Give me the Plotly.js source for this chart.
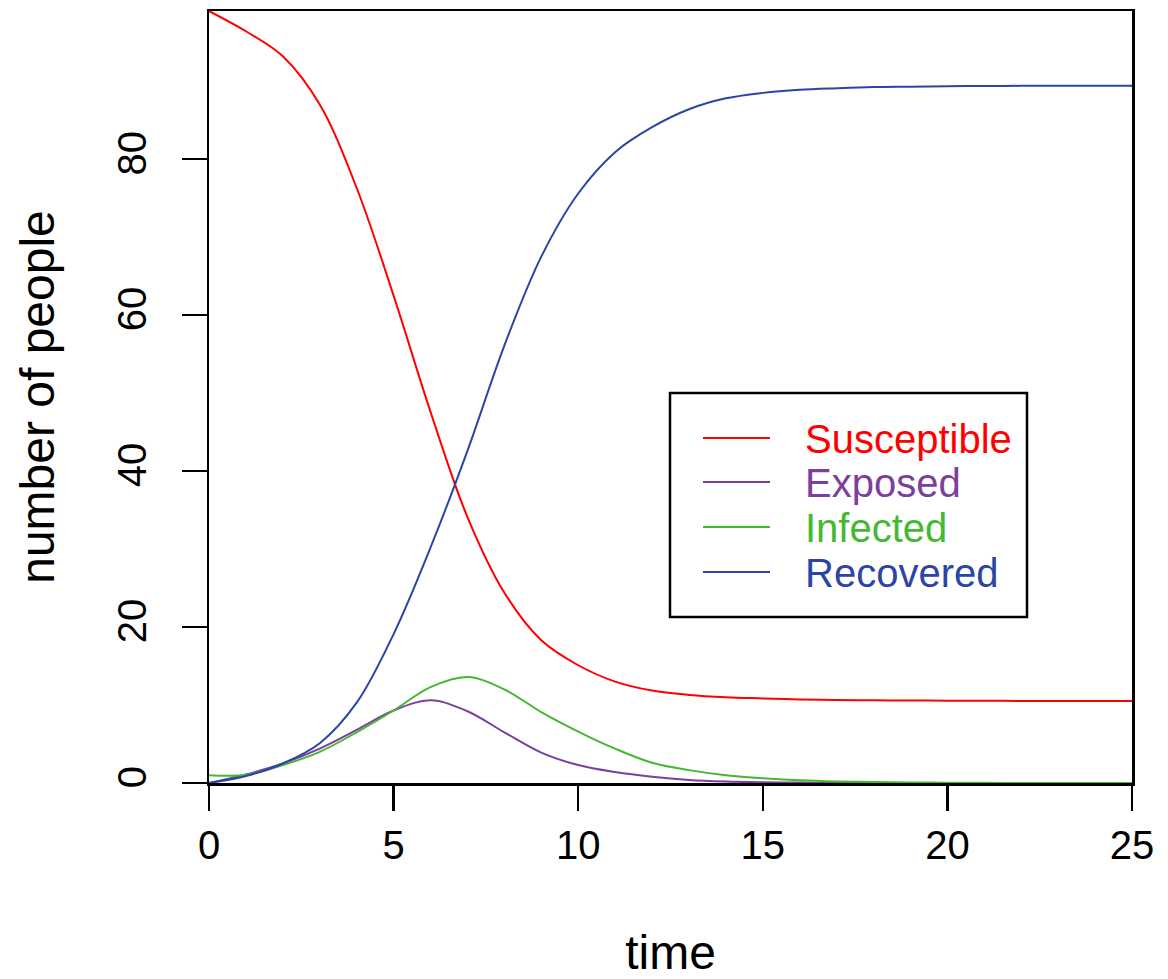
<!DOCTYPE html>
<html>
<head>
<meta charset="utf-8">
<script src="https://cdn.plot.ly/plotly-3.0.1.min.js"></script>
<style>
html, body { margin: 0; padding: 0; background: #ffffff; }
#chart { width: 1168px; height: 979px; }
</style>
</head>
<body>
<div id="chart"></div>
<script>
// Time (days)
const time = [0,1,2,3,4,5,6,7,8,9,10,11,12,13,14,15,16,17,18,19,20,21,22,23,24,25];

// Compartment sizes
const susceptible = [99,96.4,93.2,87.0,76.3,62.5,47.6,34.1,24.4,18.3,15.1,13.0,11.85,11.3,11.0,10.85,10.72,10.65,10.6,10.58,10.55,10.54,10.53,10.52,10.51,10.5];
const exposed     = [0,1.1,2.5,4.4,6.8,9.3,10.6,9.2,6.5,3.9,2.3,1.4,0.8,0.4,0.2,0.1,0.05,0.03,0.02,0.01,0.01,0,0,0,0,0];
const infected    = [1.0,1.05,2.3,4.0,6.5,9.3,12.3,13.6,12.0,9.1,6.6,4.4,2.6,1.65,1.0,0.6,0.35,0.2,0.12,0.07,0.04,0.02,0.01,0.01,0,0];
const recovered   = [0,0.9,2.5,5.1,10.3,19.1,30.2,42.6,56.1,67.5,75.6,80.9,84.1,86.4,87.8,88.5,88.9,89.1,89.25,89.3,89.35,89.38,89.4,89.4,89.4,89.4];

const seriesNames  = ['Susceptible','Exposed','Infected','Recovered'];
const seriesValues = [susceptible, exposed, infected, recovered];
const seriesColors = ['#ff0000','#7b3f9e','#45b832','#2a45a5'];

const xTicks = [0,5,10,15,20,25];
const yTicks = [0,20,40,60,80];

const FONT = 'Liberation Sans, Arial, Helvetica, sans-serif';

// Plot-area geometry (px) used to place the legend box in paper coordinates
const W = 1168, H = 979;
const M = { l: 209, r: 36, t: 11, b: 196 };
const plotW = W - M.l - M.r, plotH = H - M.t - M.b;
const px = v => (v - M.l) / plotW;
const py = v => (H - M.b - v) / plotH;

const traces = seriesNames.map((name, i) => ({
  x: time,
  y: seriesValues[i],
  type: 'scatter',
  mode: 'lines',
  name: name,
  showlegend: false,
  line: { color: seriesColors[i], width: 2, shape: 'spline', smoothing: 1 }
}));

// Legend drawn as a boxed key (R-style)
const legendBox = { x0: 670, x1: 1027, y0: 393, y1: 617 };
const legendRowY = [438, 482, 527, 572];
const shapes = [{
  type: 'rect', xref: 'paper', yref: 'paper',
  x0: px(legendBox.x0), x1: px(legendBox.x1), y0: py(legendBox.y1), y1: py(legendBox.y0),
  line: { color: '#000000', width: 2.5 }, fillcolor: '#ffffff', layer: 'above'
}];
const annotations = [];
seriesNames.forEach((name, i) => {
  shapes.push({
    type: 'line', xref: 'paper', yref: 'paper',
    x0: px(703), x1: px(770), y0: py(legendRowY[i]), y1: py(legendRowY[i]),
    line: { color: seriesColors[i], width: 2 }, layer: 'above'
  });
  annotations.push({
    xref: 'paper', yref: 'paper',
    x: px(803), y: py(legendRowY[i] + 1),
    xanchor: 'left', yanchor: 'middle',
    text: name, showarrow: false,
    font: { family: FONT, size: 40, color: seriesColors[i] }
  });
});

const axisCommon = {
  showgrid: false,
  zeroline: false,
  showline: true,
  mirror: true,
  linecolor: '#000000',
  linewidth: 2.5,
  ticks: 'outside',
  ticklen: 25,
  tickwidth: 2.5,
  tickcolor: '#000000',
  tickfont: { family: FONT, size: 40, color: '#000000' },
  automargin: false
};

const layout = {
  width: W,
  height: H,
  margin: M,
  paper_bgcolor: '#ffffff',
  plot_bgcolor: '#ffffff',
  font: { family: FONT, color: '#000000' },
  showlegend: false,
  xaxis: Object.assign({}, axisCommon, {
    range: [0, 25],
    tickmode: 'array',
    tickvals: xTicks,
    ticktext: xTicks.map(String),
    title: { text: 'time', font: { family: FONT, size: 48, color: '#000000' }, standoff: 72 }
  }),
  yaxis: Object.assign({}, axisCommon, {
    range: [0, 99],
    tickmode: 'array',
    tickvals: yTicks,
    ticktext: yTicks.map(String),
    tickangle: -90,
    ticklabelstandoff: 20,
    title: { text: 'number of people', font: { family: FONT, size: 48, color: '#000000' }, standoff: 40 }
  }),
  shapes: shapes,
  annotations: annotations
};

Plotly.newPlot('chart', traces, layout, { displayModeBar: false, staticPlot: true });
</script>
</body>
</html>
